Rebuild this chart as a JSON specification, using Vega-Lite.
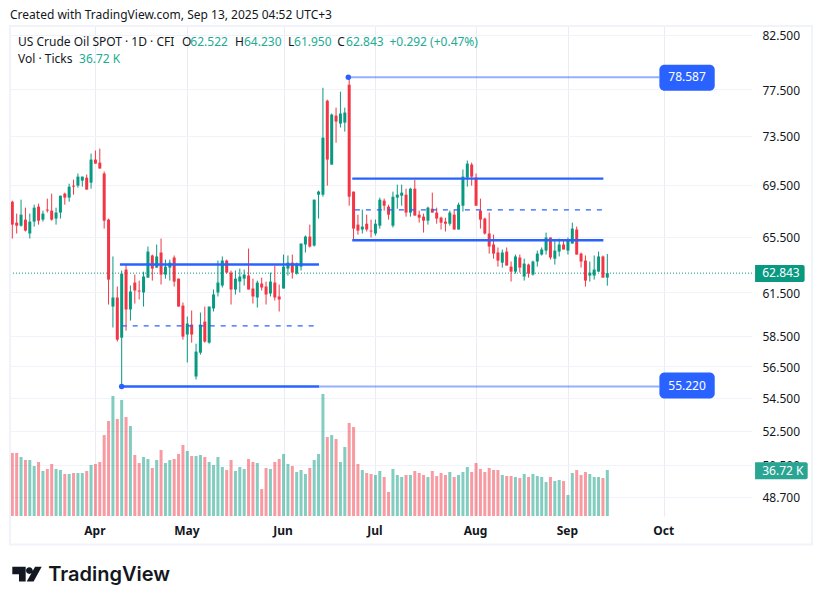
{"$schema":"https://vega.github.io/schema/vega-lite/v6.json","width":742,"height":490,"autosize":{"type":"none"},"padding":{"left":10,"top":26,"right":70,"bottom":88},"background":"white","config":{"font":"Noto Sans","view":{"stroke":null}},
"datasets":{"bars":[
{"i":0,"o":68.18,"h":68.26,"l":65.37,"c":66.42,"v":50.3},{"i":1,"o":66.57,"h":67.26,"l":65.75,"c":66.34,"v":50.3},{"i":2,"o":66.34,"h":68.34,"l":66.27,"c":67.18,"v":47.1},{"i":3,"o":66.8,"h":67.72,"l":65.9,"c":65.97,"v":44.7},{"i":4,"o":65.75,"h":67.26,"l":65.37,"c":66.65,"v":44.7},{"i":5,"o":66.65,"h":67.95,"l":66.27,"c":67.72,"v":39.9},{"i":6,"o":67.8,"h":68.03,"l":66.42,"c":66.72,"v":43.1},{"i":7,"o":66.8,"h":67.49,"l":66.65,"c":67.26,"v":35.9},{"i":8,"o":67.57,"h":68.42,"l":67.34,"c":67.49,"v":37.5},{"i":9,"o":67.49,"h":68.81,"l":66.72,"c":66.8,"v":41.5},
{"i":10,"o":66.88,"h":67.72,"l":66.42,"c":67.34,"v":37.5},{"i":11,"o":67.34,"h":68.65,"l":66.88,"c":68.65,"v":36.7},{"i":12,"o":68.81,"h":68.89,"l":67.95,"c":68.5,"v":33.5},{"i":13,"o":68.5,"h":69.6,"l":68.18,"c":69.36,"v":33.5},{"i":14,"o":69.44,"h":69.92,"l":68.73,"c":69.36,"v":34.3},{"i":15,"o":69.44,"h":70.41,"l":69.28,"c":70.16,"v":34.3},{"i":16,"o":69.84,"h":70.16,"l":69.36,"c":70.16,"v":34.3},{"i":17,"o":70.08,"h":70.33,"l":69.13,"c":69.13,"v":35.9},{"i":18,"o":69.68,"h":72.03,"l":69.2,"c":71.54,"v":40.7},{"i":19,"o":71.54,"h":72.28,"l":71.21,"c":71.21,"v":41.5},
{"i":20,"o":71.29,"h":72.44,"l":70.81,"c":70.81,"v":43.1},{"i":21,"o":70.41,"h":70.57,"l":66.12,"c":66.72,"v":64.6},{"i":22,"o":66.8,"h":66.88,"l":60.63,"c":62.38,"v":75.8},{"i":23,"o":60.49,"h":64.05,"l":59.06,"c":61.12,"v":95.8},{"i":24,"o":61.12,"h":61.89,"l":58.12,"c":58.25,"v":77.4},{"i":25,"o":58.38,"h":63.03,"l":55.22,"c":62.81,"v":92.6},{"i":26,"o":63.1,"h":63.46,"l":58.85,"c":60.29,"v":79},{"i":27,"o":60.29,"h":61.96,"l":59.53,"c":61.54,"v":71.8},{"i":28,"o":62.17,"h":62.74,"l":60.7,"c":61.61,"v":48.7},{"i":29,"o":61.61,"h":62.31,"l":60.98,"c":61.54,"v":42.3},
{"i":30,"o":61.47,"h":62.95,"l":60.49,"c":62.6,"v":47.1},{"i":31,"o":62.52,"h":64.78,"l":62.52,"c":64.41,"v":45.5},{"i":32,"o":64.12,"h":64.19,"l":62.31,"c":63.17,"v":38.3},{"i":33,"o":63.24,"h":64.93,"l":63.24,"c":64.05,"v":44.7},{"i":34,"o":64.34,"h":65.37,"l":62.03,"c":62.74,"v":52.7},{"i":35,"o":62.74,"h":63.82,"l":62.45,"c":63.31,"v":42.3},{"i":36,"o":63.24,"h":63.82,"l":62.31,"c":63.6,"v":44.7},{"i":37,"o":63.97,"h":64.12,"l":61.89,"c":62.24,"v":45.5},{"i":38,"o":62.45,"h":62.45,"l":60.49,"c":60.49,"v":49.5},{"i":39,"o":60.56,"h":60.77,"l":58.25,"c":58.45,"v":56.7},
{"i":40,"o":58.59,"h":59.8,"l":56.75,"c":59.33,"v":51.9},{"i":41,"o":59.26,"h":60.22,"l":58.05,"c":58.59,"v":47.9},{"i":42,"o":55.85,"h":57.98,"l":55.66,"c":57.46,"v":47.9},{"i":43,"o":57.39,"h":60.08,"l":57.26,"c":59.26,"v":48.7},{"i":44,"o":59.46,"h":60.49,"l":58.05,"c":58.12,"v":47.1},{"i":45,"o":58.05,"h":60.49,"l":57.98,"c":60.49,"v":43.1},{"i":46,"o":60.36,"h":61.68,"l":60.15,"c":61.33,"v":40.7},{"i":47,"o":61.47,"h":63.75,"l":61.19,"c":62.17,"v":47.1},{"i":48,"o":61.96,"h":64.05,"l":61.82,"c":63.75,"v":39.1},{"i":49,"o":63.75,"h":63.82,"l":62.81,"c":62.88,"v":36.7},
{"i":50,"o":62.88,"h":63.03,"l":60.63,"c":61.68,"v":44.7},{"i":51,"o":61.68,"h":63.03,"l":61.33,"c":62.45,"v":35.9},{"i":52,"o":62.24,"h":63.17,"l":61.47,"c":62.6,"v":39.1},{"i":53,"o":62.45,"h":63.1,"l":61.96,"c":62.74,"v":37.5},{"i":54,"o":62.67,"h":64.63,"l":61.68,"c":61.68,"v":45.5},{"i":55,"o":61.75,"h":62.45,"l":60.7,"c":61.19,"v":43.1},{"i":56,"o":61.12,"h":62.31,"l":60.42,"c":62.17,"v":42.3},{"i":57,"o":62.1,"h":62.52,"l":61.61,"c":61.82,"v":21.5},{"i":58,"o":61.89,"h":62.24,"l":60.63,"c":61.33,"v":38.3},{"i":59,"o":61.4,"h":62.88,"l":61.19,"c":62.24,"v":37.5},
{"i":60,"o":62.17,"h":63.39,"l":60.91,"c":61.12,"v":43.1},{"i":61,"o":61.19,"h":62.03,"l":60.15,"c":60.98,"v":45.5},{"i":62,"o":61.75,"h":64.19,"l":61.75,"c":63.31,"v":49.5},{"i":63,"o":63.17,"h":64.12,"l":62.67,"c":63.6,"v":41.5},{"i":64,"o":63.6,"h":64.19,"l":62.45,"c":62.88,"v":39.9},{"i":65,"o":62.81,"h":63.6,"l":62.74,"c":63.53,"v":35.1},{"i":66,"o":63.31,"h":65,"l":63.03,"c":65,"v":36.7},{"i":67,"o":64.93,"h":65.6,"l":64.34,"c":65.52,"v":33.5},{"i":68,"o":65.52,"h":66.42,"l":64.71,"c":64.78,"v":38.3},{"i":69,"o":64.85,"h":68.34,"l":64.78,"c":68.34,"v":44.7},
{"i":70,"o":68.73,"h":69.05,"l":66.88,"c":68.97,"v":49.5},{"i":71,"o":68.73,"h":77.65,"l":68.57,"c":73.35,"v":97.4},{"i":72,"o":76.51,"h":76.6,"l":69.44,"c":71.54,"v":63},{"i":73,"o":71.13,"h":75.4,"l":71.13,"c":75.31,"v":64.6},{"i":74,"o":75.22,"h":75.91,"l":72.93,"c":74.71,"v":61.4},{"i":75,"o":74.54,"h":77.3,"l":74.2,"c":75.4,"v":43.1},{"i":76,"o":74.62,"h":75.91,"l":73.86,"c":75.48,"v":55.1},{"i":77,"o":77.92,"h":78.587,"l":67.87,"c":68.57,"v":74.2},{"i":78,"o":68.97,"h":68.97,"l":65.22,"c":66.12,"v":71},{"i":79,"o":66.42,"h":67.18,"l":65.67,"c":65.97,"v":41.5},
{"i":80,"o":66.05,"h":67.57,"l":65.75,"c":66.27,"v":36.7},{"i":81,"o":66.49,"h":67.18,"l":65.9,"c":66.05,"v":34.3},{"i":82,"o":65.97,"h":66.8,"l":65.45,"c":65.9,"v":33.5},{"i":83,"o":65.75,"h":66.8,"l":65.6,"c":66.49,"v":32.7},{"i":84,"o":66.34,"h":68.5,"l":66.12,"c":68.34,"v":35.9},{"i":85,"o":68.26,"h":68.42,"l":67.49,"c":67.87,"v":31.1},{"i":86,"o":67.8,"h":67.95,"l":66.8,"c":67.18,"v":19.2},{"i":87,"o":66.34,"h":68.97,"l":66.2,"c":68.57,"v":37.5},{"i":88,"o":68.5,"h":69.52,"l":67.64,"c":68.73,"v":32.7},{"i":89,"o":68.65,"h":69.52,"l":67.87,"c":68.89,"v":31.1},
{"i":90,"o":68.73,"h":69.2,"l":67.03,"c":67.34,"v":32.7},{"i":91,"o":67.34,"h":69.28,"l":67.03,"c":69.2,"v":32.7},{"i":92,"o":69.2,"h":69.92,"l":67.11,"c":67.11,"v":35.9},{"i":93,"o":67.18,"h":67.49,"l":66.57,"c":66.95,"v":34.3},{"i":94,"o":67.03,"h":67.26,"l":65.82,"c":66.72,"v":32.7},{"i":95,"o":66.72,"h":67.8,"l":66.42,"c":67.72,"v":31.1},{"i":96,"o":67.64,"h":68.89,"l":67.34,"c":67.34,"v":35.9},{"i":97,"o":67.34,"h":67.72,"l":66.49,"c":66.88,"v":31.9},{"i":98,"o":66.95,"h":67.03,"l":66.05,"c":66.57,"v":34.3},{"i":99,"o":66.65,"h":66.95,"l":65.9,"c":66.49,"v":32.7},
{"i":100,"o":66.49,"h":67.49,"l":66.34,"c":67.34,"v":35.1},{"i":101,"o":67.18,"h":67.57,"l":66.05,"c":66.05,"v":31.1},{"i":102,"o":66.05,"h":68.1,"l":66.05,"c":67.95,"v":32.7},{"i":103,"o":67.87,"h":70.73,"l":67.42,"c":70.16,"v":35.1},{"i":104,"o":70.08,"h":71.46,"l":69.36,"c":71.21,"v":39.1},{"i":105,"o":71.13,"h":71.29,"l":69.44,"c":70.16,"v":35.1},{"i":106,"o":70.08,"h":70.41,"l":67.87,"c":67.87,"v":42.3},{"i":107,"o":67.49,"h":68.42,"l":66.12,"c":66.8,"v":37.5},{"i":108,"o":66.88,"h":66.95,"l":65.67,"c":65.75,"v":35.1},{"i":109,"o":65.75,"h":67.34,"l":64.26,"c":64.78,"v":38.3},
{"i":110,"o":64.93,"h":65.67,"l":63.89,"c":64.26,"v":36.7},{"i":111,"o":64.34,"h":64.71,"l":63.31,"c":63.75,"v":36.7},{"i":112,"o":63.6,"h":64.56,"l":63.24,"c":64.34,"v":32.7},{"i":113,"o":64.41,"h":64.71,"l":63.39,"c":63.39,"v":31.9},{"i":114,"o":63.31,"h":63.68,"l":62.24,"c":62.95,"v":31.9},{"i":115,"o":62.95,"h":64.19,"l":62.81,"c":64.05,"v":31.1},{"i":116,"o":63.97,"h":64.19,"l":62.88,"c":63.24,"v":30.3},{"i":117,"o":62.6,"h":63.89,"l":62.31,"c":63.53,"v":33.5},{"i":118,"o":63.46,"h":63.53,"l":62.52,"c":62.81,"v":31.1},{"i":119,"o":62.74,"h":63.75,"l":62.67,"c":63.68,"v":33.5},
{"i":120,"o":63.68,"h":64.48,"l":63.31,"c":64.26,"v":31.9},{"i":121,"o":64.19,"h":64.71,"l":64.12,"c":64.56,"v":31.1},{"i":122,"o":64.48,"h":65.82,"l":64.19,"c":65.45,"v":27.1},{"i":123,"o":65.45,"h":65.45,"l":63.82,"c":63.97,"v":31.1},{"i":124,"o":63.89,"h":65.22,"l":63.46,"c":64.48,"v":27.9},{"i":125,"o":64.41,"h":65.37,"l":64.05,"c":64.93,"v":28.7},{"i":126,"o":64.93,"h":65.22,"l":64.56,"c":64.56,"v":27.9},{"i":127,"o":64.48,"h":65.45,"l":64.19,"c":65.22,"v":16.8},{"i":128,"o":65,"h":66.57,"l":65,"c":66.12,"v":34.3},{"i":129,"o":66.05,"h":66.27,"l":64.19,"c":64.19,"v":36.7},
{"i":130,"o":64.26,"h":64.34,"l":63.24,"c":63.68,"v":32.7},{"i":131,"o":63.75,"h":64.12,"l":61.89,"c":62.31,"v":35.1},{"i":132,"o":62.67,"h":63.68,"l":62.24,"c":62.88,"v":33.5},{"i":133,"o":62.67,"h":64.12,"l":62.38,"c":63.1,"v":31.1},{"i":134,"o":62.95,"h":64.41,"l":62.95,"c":64.05,"v":31.1},{"i":135,"o":64.05,"h":64.12,"l":62.52,"c":62.52,"v":30.3},{"i":136,"o":62.522,"h":64.23,"l":61.95,"c":62.843,"v":36.72}
]},
"data":{"name":"bars"},
"encoding":{"x":{"field":"i","type":"quantitative","title":null,"scale":{"domain":[-0.526,169.07],"nice":false,"zero":false,"padding":0},"axis":{"orient":"bottom","values":[19,40,62,83,106,127,149],"labelExpr":"{'19':'Apr','40':'May','62':'Jun','83':'Jul','106':'Aug','127':'Sep','149':'Oct'}[datum.value]","domain":false,"ticks":false,"grid":true,"gridColor":"#e9ecf3","gridWidth":1,"labelFont":"Noto Sans","labelFontSize":12,"labelFontWeight":"bold","labelColor":"#131722","labelPadding":9,"labelOffset":-1,"labelFlush":false}}},
"layer":[
{"mark":{"type":"bar","orient":"vertical","size":3,"opacity":0.5},"encoding":{"y":{"field":"v","type":"quantitative","stack":null,"scale":{"domain":[0,391],"nice":false},"axis":null},"color":{"condition":{"test":"datum.c>=datum.o","value":"#089981"},"value":"#F23645"}}},
{"data":{"values":[{"i":-0.526,"i2":169.07,"p":62.843}]},"mark":{"type":"rule","color":"#089981","strokeWidth":1,"strokeDash":[1,2]},"encoding":{"x2":{"field":"i2"},"y":{"field":"p","type":"quantitative","title":null,"scale":{"type":"log","domain":[47.63,83.32],"nice":false,"zero":false},"axis":{"orient":"right","values":[48.7,50.5,52.5,54.5,56.5,58.5,61.5,65.5,69.5,73.5,77.5,82.5],"format":".3f","domain":false,"ticks":false,"grid":true,"gridColor":"#f0f3fa","gridWidth":1,"labelFont":"Noto Sans","labelFontSize":12,"labelColor":"#131722","labelPadding":10,"labelOffset":1}}}},
{"layer":[
{"mark":{"type":"rule","strokeWidth":1},"encoding":{"y":{"field":"l","type":"quantitative","scale":{"type":"log","domain":[47.63,83.32],"nice":false,"zero":false},"axis":null},"y2":{"field":"h"},"color":{"condition":{"test":"datum.c>=datum.o","value":"#089981"},"value":"#F23645"}}},
{"mark":{"type":"bar","orient":"vertical","size":3},"encoding":{"y":{"field":"o","type":"quantitative","stack":null,"scale":{"type":"log","domain":[47.63,83.32],"nice":false,"zero":false},"axis":null},"y2":{"field":"c"},"color":{"condition":{"test":"datum.c>=datum.o","value":"#089981"},"value":"#F23645"}}},
{"data":{"values":[{"i":77,"i2":147.9,"p":78.587},{"i":70.1,"i2":147.9,"p":55.22}]},"mark":{"type":"rule","color":"#2962FF","opacity":0.5,"strokeWidth":2},"encoding":{"x2":{"field":"i2"},"y":{"field":"p","type":"quantitative","scale":{"type":"log","domain":[47.63,83.32],"nice":false,"zero":false},"axis":null}}},
{"data":{"values":[{"i":24.6,"i2":70.1,"p":63.46},{"i":25,"i2":70.1,"p":55.22},{"i":77.7,"i2":135.1,"p":70},{"i":77.7,"i2":135.1,"p":65.25}]},"mark":{"type":"rule","color":"#2962FF","strokeWidth":2.4},"encoding":{"x2":{"field":"i2"},"y":{"field":"p","type":"quantitative","scale":{"type":"log","domain":[47.63,83.32],"nice":false,"zero":false},"axis":null}}},
{"data":{"values":[{"i":25,"i2":69,"p":59.17},{"i":78.3,"i2":135.1,"p":67.55}]},"mark":{"type":"rule","color":"#2962FF","strokeWidth":1.4,"strokeDash":[5,6]},"encoding":{"x2":{"field":"i2"},"y":{"field":"p","type":"quantitative","scale":{"type":"log","domain":[47.63,83.32],"nice":false,"zero":false},"axis":null}}},
{"data":{"values":[{"i":25,"p":55.22},{"i":76.8,"p":78.587}]},"mark":{"type":"point","shape":"circle","filled":true,"color":"#2962FF","opacity":1,"size":30},"encoding":{"y":{"field":"p","type":"quantitative","scale":{"type":"log","domain":[47.63,83.32],"nice":false,"zero":false},"axis":null}}},
{"data":{"values":[{"i":147.9,"i2":160.55,"p":79.72,"p2":77.39},{"i":147.9,"i2":160.55,"p":56.11,"p2":54.47}]},"mark":{"type":"rect","color":"#2962FF","cornerRadius":5},"encoding":{"x2":{"field":"i2"},"y":{"field":"p","type":"quantitative","scale":{"type":"log","domain":[47.63,83.32],"nice":false,"zero":false},"axis":null},"y2":{"field":"p2"}}},
{"data":{"values":[{"i":169.77,"i2":181.1,"p":63.43,"p2":62.21}]},"mark":{"type":"rect","color":"#089981","cornerRadiusTopRight":2,"cornerRadiusBottomRight":2},"encoding":{"x2":{"field":"i2"},"y":{"field":"p","type":"quantitative","scale":{"type":"log","domain":[47.63,83.32],"nice":false,"zero":false},"axis":null},"y2":{"field":"p2"}}},
{"data":{"values":[{"i":169.77,"i2":181.8,"p":50.65,"p2":49.67}]},"mark":{"type":"rect","color":"#2aa594","cornerRadiusTopRight":2,"cornerRadiusBottomRight":2},"encoding":{"x2":{"field":"i2"},"y":{"field":"p","type":"quantitative","scale":{"type":"log","domain":[47.63,83.32],"nice":false,"zero":false},"axis":null},"y2":{"field":"p2"}}},
{"data":{"values":[{"i":-0.526,"i2":182.8,"p":83.32,"p2":46.1}]},"mark":{"type":"rect","fill":"transparent","stroke":"#f0f3fa","strokeWidth":2},"encoding":{"x2":{"field":"i2"},"y":{"field":"p","type":"quantitative","scale":{"type":"log","domain":[47.63,83.32],"nice":false,"zero":false},"axis":null},"y2":{"field":"p2"}}},
{"data":{"values":[{"i":154.22,"p":78.587,"label":"78.587"},{"i":154.22,"p":55.22,"label":"55.220"}]},"mark":{"type":"text","color":"white","fontSize":12,"align":"center","baseline":"middle","font":"Noto Sans"},"encoding":{"y":{"field":"p","type":"quantitative","scale":{"type":"log","domain":[47.63,83.32],"nice":false,"zero":false},"axis":null},"text":{"field":"label"}}},
{"data":{"values":[{"i":171.4,"p":62.843,"label":"62.843"},{"i":171.4,"p":50.16,"label":"36.72 K"}]},"mark":{"type":"text","color":"white","fontSize":12,"align":"left","baseline":"middle","font":"Noto Sans"},"encoding":{"y":{"field":"p","type":"quantitative","scale":{"type":"log","domain":[47.63,83.32],"nice":false,"zero":false},"axis":null},"text":{"field":"label"}}},
{"data":{"values":[{"i":-0.526,"p":84.38,"label":"Created with TradingView.com, Sep 13, 2025 04:52 UTC+3"},{"i":1.3,"p":81.84,"label":"US Crude Oil SPOT · 1D · CFI"},{"i":38.8,"p":81.84,"label":"O"},{"i":50.9,"p":81.84,"label":"H"},{"i":63,"p":81.84,"label":"L"},{"i":74.3,"p":81.84,"label":"C"},{"i":1.3,"p":80.27,"label":"Vol · Ticks"}]},"mark":{"type":"text","color":"#131722","fontSize":12,"align":"left","baseline":"middle","font":"Noto Sans"},"encoding":{"y":{"field":"p","type":"quantitative","scale":{"type":"log","domain":[47.63,83.32],"nice":false,"zero":false},"axis":null},"text":{"field":"label"}}},
{"data":{"values":[{"i":40.7,"p":81.84,"label":"62.522"},{"i":52.96,"p":81.84,"label":"64.230"},{"i":64.4,"p":81.84,"label":"61.950"},{"i":76.3,"p":81.84,"label":"62.843"},{"i":86.2,"p":81.84,"label":"+0.292 (+0.47%)"},{"i":15.25,"p":80.27,"label":"36.72 K"}]},"mark":{"type":"text","color":"#22ab94","fontSize":12,"align":"left","baseline":"middle","font":"Noto Sans"},"encoding":{"y":{"field":"p","type":"quantitative","scale":{"type":"log","domain":[47.63,83.32],"nice":false,"zero":false},"axis":null},"text":{"field":"label"}}},
{"data":{"values":[{"i":8.2,"p":44.2,"label":"TradingView"}]},"mark":{"type":"text","color":"#131722","fontSize":20,"fontWeight":600,"align":"left","baseline":"alphabetic","font":"Inter"},"encoding":{"y":{"field":"p","type":"quantitative","scale":{"type":"log","domain":[47.63,83.32],"nice":false,"zero":false},"axis":null},"text":{"field":"label"}}},
{"data":{"values":[{"i":3.36,"p":44.57}]},"mark":{"type":"point","filled":true,"color":"#131722","opacity":1,"size":864,"shape":"M-1,-.5L-.09,-.5L-.09,.5L-.545,.5L-.545,0L-1,0Z M-.07,-.25A.23,.23 0 1 1 .39,-.25A.23,.23 0 1 1 -.07,-.25Z M.55,-.5L1,-.5L.45,.5L-.02,.5Z"},"encoding":{"y":{"field":"p","type":"quantitative","scale":{"type":"log","domain":[47.63,83.32],"nice":false,"zero":false},"axis":null}}}
]}
],
"resolve":{"scale":{"y":"independent"}}}
